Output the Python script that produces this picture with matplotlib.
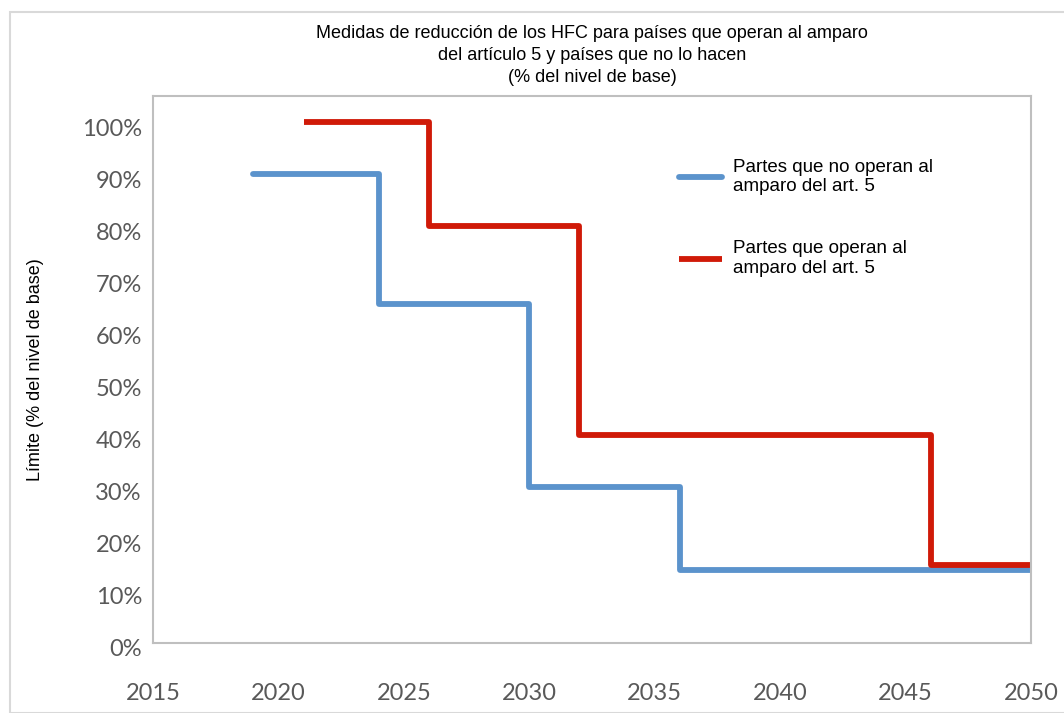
import matplotlib.pyplot as plt
from matplotlib.patches import Rectangle
from matplotlib.ticker import PercentFormatter
from matplotlib.transforms import ScaledTranslation

# datos: limites de consumo de HFC (% del nivel de base)
years_no_art5 = [2019, 2024, 2030, 2036, 2050]
limit_no_art5 = [0.90, 0.65, 0.30, 0.14, 0.14]
years_art5 = [2021, 2026, 2032, 2046, 2050]
limit_art5 = [1.00, 0.80, 0.40, 0.15, 0.15]

label_no_art5 = 'Partes que no operan al\namparo del art. 5'
label_art5 = 'Partes que operan al\namparo del art. 5'
title = ('Medidas de reducción de los HFC para países que operan al amparo\n'
         'del artículo 5 y países que no lo hacen\n(% del nivel de base)')

fig = plt.figure(figsize=(10.64, 7.13), dpi=100)
fig.patches.append(Rectangle((10 / 1064, 0), 1.1, (713 - 12) / 713, transform=fig.transFigure,
                             fill=False, edgecolor='#D9D9D9', linewidth=1.5))
ax = fig.add_axes([0.1438, 0.0982, 0.8252, 0.7672])

ax.step(years_no_art5, limit_no_art5, where='post', color='#5B93CC', linewidth=4.2,
        label=label_no_art5, solid_capstyle='round')
ax.step(years_art5, limit_art5, where='post', color='#D01A08', linewidth=4.2,
        label=label_art5, solid_capstyle='butt')

ax.set_xlim(2015, 2050)
ax.set_ylim(0, 1.05)
ax.set_xticks(range(2015, 2051, 5))
ax.set_yticks([i / 10 for i in range(11)])
ax.yaxis.set_major_formatter(PercentFormatter(1.0, decimals=0))
ax.tick_params(length=0, labelsize=17, labelcolor='#595959', pad=8)
ax.tick_params(axis='x', pad=29)
shift = ScaledTranslation(0, -5 / 100, fig.dpi_scale_trans)
for lbl in ax.get_xticklabels() + ax.get_yticklabels():
    lbl.set_family('Lato')
for lbl in ax.get_yticklabels():
    lbl.set_transform(lbl.get_transform() + shift)
for s in ax.spines.values():
    s.set_color('#BFBFBF')
    s.set_linewidth(1.5)

ax.set_ylabel('Límite (% del nivel de base)', fontsize=13, family='Liberation Sans', labelpad=27)
fig.text(592 / 1064, 1 - 25 / 713, title, ha='center', va='top', fontsize=13,
         family='Liberation Sans', linespacing=1.4)

leg = ax.legend(loc='upper left', bbox_to_anchor=(662 / 1064, 1 - 142 / 713),
                bbox_transform=fig.transFigure, frameon=False, handlelength=2.3,
                handletextpad=0.6, labelspacing=2.4, prop={'family': 'Liberation Sans', 'size': 13.5})

fig.savefig('out.png', dpi=100)
